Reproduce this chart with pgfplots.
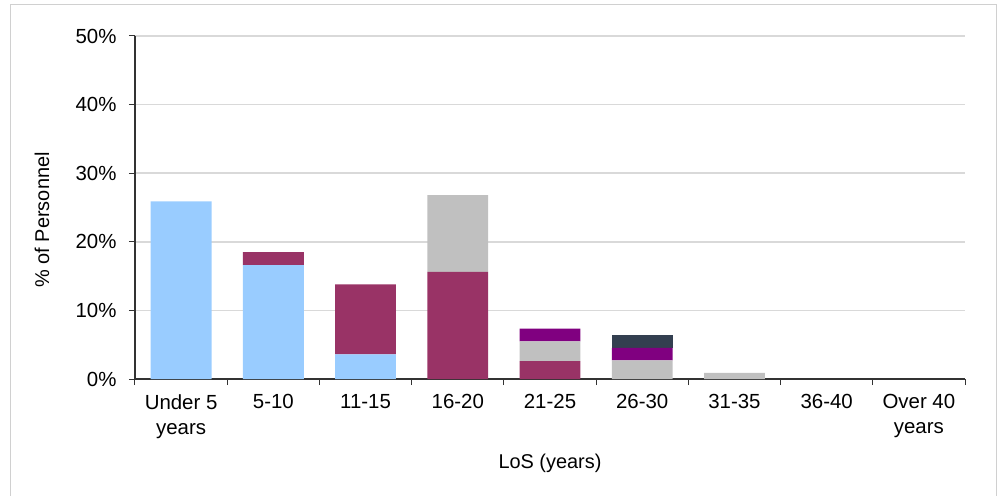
\documentclass[border=0pt]{standalone}
\usepackage{fontspec}
\setmainfont{Liberation Sans}
\usepackage{pgfplots}
\pgfplotsset{compat=1.18}
\definecolor{cblue}{HTML}{99CCFF}
\definecolor{cmaroon}{HTML}{993366}
\definecolor{cgrey}{HTML}{C0C0C0}
\definecolor{cpurple}{HTML}{800080}
\definecolor{cnavy}{HTML}{333F50}
\definecolor{gridc}{HTML}{D9D9D9}
\definecolor{framec}{HTML}{D0D0D0}
\begin{document}
\begin{tikzpicture}
\begin{axis}[
  at={(0,0)}, anchor=south west,
  scale only axis, width=830bp, height=343bp,
  ybar stacked, bar width=0.66,
  xmin=-0.5, xmax=8.5, ymin=0, ymax=50,
  axis x line*=bottom, axis y line*=left,
  axis line style={black!80, line width=1.2bp},
  xtick={-0.5,0.5,...,8.5},
  x tick label as interval,
  xticklabels={{Under 5\\years},{5-10},{11-15},{16-20},{21-25},{26-30},{31-35},{36-40},{Over 40\\years}},
  xticklabel style={align=center, font=\fontsize{20.5}{25}\selectfont, yshift=-6bp},
  ytick={0,10,...,50},
  yticklabels={0\%,10\%,20\%,30\%,40\%,50\%},
  yticklabel style={font=\fontsize{20.5}{25}\selectfont, xshift=-9bp},
  tick align=outside, major tick length=6bp,
  tick style={black!80, line width=1bp},
  ymajorgrids, major grid style={gridc, line width=1.5bp},
  xlabel={LoS (years)}, ylabel={\% of Personnel},
  every axis x label/.style={at={(axis description cs:0.5,-0.245)}, anchor=center, font=\fontsize{20}{24}\selectfont},
  every axis y label/.style={at={(axis description cs:-0.112,0.464)}, anchor=center, rotate=90, font=\fontsize{20}{24}\selectfont},
  /pgf/number format/assume math mode=true,
]
\addplot[fill=cblue, draw=none] coordinates {(0,25.9) (1,16.6) (2,3.6) (3,0) (4,0) (5,0) (6,0) (7,0) (8,0)};
\addplot[fill=cmaroon, draw=none] coordinates {(0,0) (1,1.9) (2,10.2) (3,15.6) (4,2.6) (5,0) (6,0) (7,0) (8,0)};
\addplot[fill=cgrey, draw=none] coordinates {(0,0) (1,0) (2,0) (3,11.2) (4,2.9) (5,2.7) (6,0.9) (7,0) (8,0)};
\addplot[fill=cpurple, draw=none] coordinates {(0,0) (1,0) (2,0) (3,0) (4,1.85) (5,1.85) (6,0) (7,0) (8,0)};
\addplot[fill=cnavy, draw=none] coordinates {(0,0) (1,0) (2,0) (3,0) (4,0) (5,1.9) (6,0) (7,0) (8,0)};
\end{axis}
\draw[framec, line width=1bp] (-124bp,-122bp) -- (-124bp,374bp) -- (861bp,374bp) -- (861bp,-122bp);
\pgfresetboundingbox
\useasboundingbox (-135bp,-117bp) rectangle (862bp,379bp);
\end{tikzpicture}
\end{document}
